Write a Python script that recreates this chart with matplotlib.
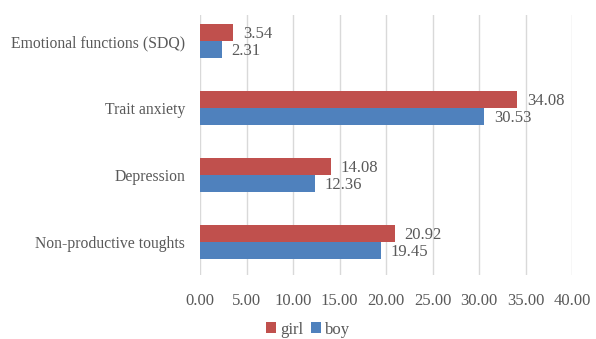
import matplotlib
matplotlib.use("Agg")
import matplotlib.pyplot as plt
import numpy as np

# scores by measure, bottom to top
categories = ["Non-productive toughts", "Depression", "Trait anxiety", "Emotional functions (SDQ)"]
girl = [20.92, 14.08, 34.08, 3.54]
boy = [19.45, 12.36, 30.53, 2.31]
xticks = [0, 5, 10, 15, 20, 25, 30, 35, 40]

red = "#C0504D"
blue = "#4F81BD"
grey = "#595959"

plt.rcParams["font.family"] = ["Liberation Serif", "DejaVu Serif"]

fig = plt.figure(figsize=(5.96, 3.39), dpi=100)
ax = fig.add_axes([0.336, 0.189, 0.624, 0.767])

y = np.arange(len(categories))
h = 0.254
bg = ax.barh(y + h / 2, girl, height=h, color=red, label="girl")
bb = ax.barh(y - h / 2, boy, height=h, color=blue, label="boy")

for bars, vals in ((bg, girl), (bb, boy)):
    for rect, v in zip(bars, vals):
        ax.annotate(f"{v:.2f}", (rect.get_width(), rect.get_y() + rect.get_height() / 2),
                    xytext=(7, -1), textcoords="offset points", va="center", ha="left",
                    fontsize=12, color=grey)

ax.set_xlim(0, 40)
ax.set_ylim(-0.49, 3.39)
ax.set_xticks(xticks)
ax.set_xticklabels([f"{t:.2f}" for t in xticks])
ax.set_yticks(y)
ax.set_yticklabels(categories, fontsize=11.3)
ax.tick_params(axis="x", length=0, labelsize=12, colors=grey, pad=13)
ax.tick_params(axis="y", length=0, colors=grey, pad=11)
ax.grid(axis="x", color="#D9D9D9", linewidth=1)
ax.set_axisbelow(True)
for s in ax.spines.values():
    s.set_visible(False)

fig.legend(handles=[bg, bb], labels=["girl", "boy"], loc="center", bbox_to_anchor=(0.517, 0.028),
           ncol=2, frameon=False, fontsize=12, handlelength=0.6, handleheight=0.6,
           handletextpad=0.25, columnspacing=0.5, labelcolor=grey)

fig.savefig("out.png", dpi=100)
